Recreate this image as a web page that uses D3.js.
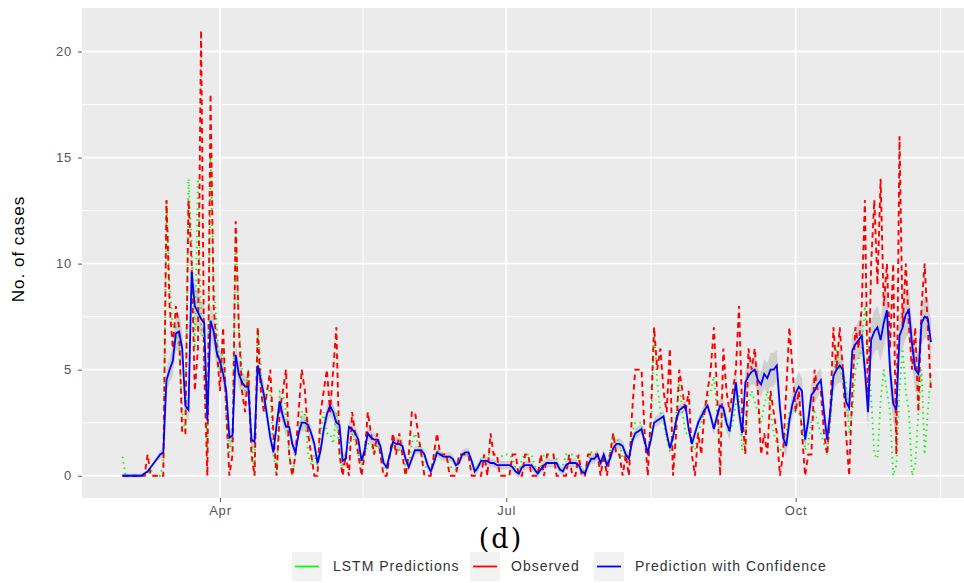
<!DOCTYPE html>
<html lang="en">
<head>
  <meta charset="UTF-8" />
  <title>No. of cases (d)</title>
  <script src="https://d3js.org/d3.v7.min.js"></script>
  <style>
    body {
      background-color: white;
      margin: 0;
      font-family: "Liberation Sans", Arial, sans-serif;
    }
    svg { display: block; }
  </style>
</head>
<body>
  <svg></svg>

  <script>
    // daily series, one value per day starting 2020-03-01
    const startDate = "2020-03-01";

    const observed = [
      0,0,0,0,0,0,0,0,1,0,
      0,0,0,0,13,8,6,8,7,2,
      2,13,10,4,6,21,5,0,18,8,
      6,4,7,3,0,1,12,7,4,3,
      5,1,0,7,4,3,4,5,2,0,
      3,4,5,1,0,1,3,5,4,2,
      1,0,0,3,4,5,3,5,7,1,
      0,1,0,3,2,1,0,1,3,2,
      1,2,1,0,0,1,2,1,2,1,
      0,1,3,3,2,1,0,0,0,1,
      2,1,1,1,0,0,0,1,1,1,
      1,0,0,0,0,1,0,2,1,1,
      0,0,0,0,1,1,0,0,1,1,
      0,0,0,1,0,1,1,1,0,0,
      0,0,1,0,0,1,0,0,1,1,
      1,1,0,1,0,1,2,1,1,0,
      1,0,3,5,5,5,2,0,3,7,
      5,6,4,3,6,0,2,5,4,3,
      4,1,0,2,1,3,4,5,7,4,
      0,6,4,3,4,5,8,3,1,6,
      5,6,4,1,2,1,4,3,2,0,
      1,4,7,5,3,4,2,0,1,1,
      5,4,4,2,1,3,7,5,7,5,
      2,0,4,7,6,8,13,3,10,13,
      9,14,8,10,6,10,1,16,7,10,
      7,5,7,3,8,10,7,4
    ];

    const lstm = [
      0.9,0,0,0,0,0,0,0,0,0.3,
      0,0,0,0.5,13,9,7,7,6,3,
      2,14,11,6,14,7,6,1,15,9,
      7,5,6,3,1,2,11.5,7,5,4,
      5,2,0,7,5,3,4,4,1,0,
      4,4,3,1,0,1,2,3,3,1,
      0.5,1,0.5,2,3,2,2,1.5,3,1,
      0.4,1,1.5,2,1.5,1,0.5,1,1.5,1.5,
      1,1.5,1,0.5,0.3,1,1.5,1.2,1.2,1,
      0.5,0.5,1.5,2,1.5,1,0.5,0.3,0.3,0.8,
      1.2,1,1,0.8,0.5,0.3,0.3,0.8,1,1,
      1,0.5,0.2,0.3,0.8,1,1,1,1,0.8,
      0.8,1,1,1,0.8,0.3,0.2,0.8,1,1,
      1,0.5,0.2,0.5,1,1,1,1,0.8,0.3,
      0.5,1,1,1,1,0.8,0.3,0.2,0.7,1.1,
      1,1,0.5,1,0.5,1.2,1.9,1.8,1.5,0.8,
      1,0.8,2,2.5,2.5,2.5,1.5,1,2,7,
      4.4,3,2.5,1.7,1.2,1.5,3,4.4,3,2,
      2,1.5,1.2,2,2.5,3,3.7,4,4.7,3,
      1.8,3,2.5,2,2.5,3.4,3.8,1.2,2,3.5,
      4,3.5,3,2.5,3.3,4,3,2,1.5,1.2,
      1.3,2,3,3.2,3,3,2.5,1.2,1.5,2.6,
      3,2.5,2,1.5,1,2.5,4.5,6,5,4.5,
      4.4,2,3,5,5.5,6,8,5.6,3.7,1,
      0.8,3.5,5,4,3,0,0.5,4,6,4,
      3,0,0.5,3,5,1,3,4.8
    ];

    const predicted = [
      0,0,0,0,0,0,0,0.1,0.2,0.4,
      0.6,0.8,1.0,1.1,4.5,5.0,5.4,6.7,6.8,6.0,
      3.3,3.1,9.6,8.0,7.7,7.4,7.2,2.6,7.3,6.8,
      5.8,5.4,4.8,4.0,1.8,1.9,5.7,4.8,4.4,4.2,
      4.2,1.7,1.6,5.2,4.5,3.8,2.8,1.8,1.1,2.4,
      3.5,2.8,2.3,2.3,1.5,1.1,2.0,2.5,2.5,2.4,
      2.0,1.5,0.6,1.2,2.2,2.9,3.3,3.0,2.5,2.4,
      0.7,0.8,2.3,2.2,2.0,1.7,0.7,1.2,2.0,1.8,
      1.7,1.7,1.4,0.6,0.4,1.0,1.6,1.5,1.5,1.4,
      0.8,0.4,0.8,1.2,1.2,1.2,1.0,0.5,0.2,0.6,
      1.1,1.0,0.9,0.9,0.9,0.8,0.5,0.6,1.0,1.1,
      1.1,0.7,0.2,0.4,0.7,0.7,0.7,0.6,0.6,0.5,
      0.5,0.5,0.5,0.5,0.4,0.2,0.1,0.4,0.5,0.5,
      0.5,0.3,0.1,0.3,0.5,0.6,0.6,0.6,0.6,0.3,
      0.2,0.5,0.6,0.6,0.6,0.5,0.2,0.1,0.5,0.8,
      0.8,1.0,0.6,1.0,0.5,0.8,1.3,1.5,1.5,1.4,
      1.0,0.8,1.6,2.0,2.1,2.2,1.6,1.1,1.7,2.5,
      2.6,2.7,2.8,2.0,1.3,1.8,2.6,3.1,3.2,3.3,
      2.2,1.5,2.0,2.5,2.8,3.1,3.3,2.8,2.2,2.8,
      3.3,3.2,2.5,2.1,3.2,4.4,3.0,2.0,4.4,4.7,
      4.9,5.0,4.5,4.3,4.8,4.6,5.0,5.0,5.2,3.2,
      1.8,1.4,2.6,3.4,3.9,4.2,4.0,1.7,2.6,3.8,
      4.0,4.3,4.5,3.0,1.7,3.0,4.7,5.0,5.2,5.0,
      3.5,3.2,5.9,6.2,6.4,6.6,5.0,3.0,6.4,6.8,
      7.0,6.4,7.2,7.8,5.0,3.4,3.1,6.6,7.0,7.6,
      7.8,6.2,5.0,4.8,7.2,7.5,7.4,6.3
    ];

    // half width of the confidence band around the prediction
    const ciHalf = [
      0.1,0.1,0.1,0.1,0.1,0.1,0.1,0.1,0.1,0.1,
      0.1,0.1,0.2,0.2,0.5,0.6,0.7,0.8,0.9,0.8,
      0.5,0.5,0.9,1.0,0.9,0.8,0.8,0.5,0.8,0.8,
      0.7,0.6,0.6,0.5,0.4,0.4,0.6,0.6,0.5,0.5,
      0.5,0.4,0.4,0.6,0.5,0.5,0.4,0.4,0.3,0.4,
      0.5,0.5,0.4,0.4,0.3,0.3,0.3,0.4,0.4,0.4,
      0.3,0.3,0.3,0.3,0.4,0.4,0.5,0.4,0.4,0.3,
      0.3,0.3,0.3,0.3,0.3,0.3,0.3,0.3,0.3,0.3,
      0.3,0.3,0.3,0.2,0.2,0.2,0.3,0.3,0.3,0.3,
      0.2,0.2,0.2,0.2,0.2,0.2,0.2,0.2,0.2,0.2,
      0.2,0.2,0.2,0.2,0.2,0.2,0.2,0.2,0.2,0.2,
      0.2,0.2,0.2,0.2,0.2,0.2,0.2,0.2,0.2,0.2,
      0.2,0.2,0.2,0.2,0.2,0.2,0.2,0.2,0.2,0.2,
      0.2,0.2,0.2,0.2,0.2,0.2,0.2,0.2,0.2,0.2,
      0.2,0.2,0.2,0.2,0.2,0.2,0.2,0.2,0.2,0.2,
      0.25,0.25,0.25,0.25,0.25,0.25,0.25,0.25,0.25,0.25,
      0.25,0.25,0.25,0.25,0.25,0.25,0.25,0.25,0.25,0.25,
      0.25,0.25,0.25,0.25,0.25,0.25,0.25,0.25,0.25,0.25,
      0.25,0.25,0.25,0.25,0.25,0.25,0.25,0.25,0.25,0.25,
      0.4,0.4,0.4,0.4,0.5,0.6,0.5,0.5,0.6,0.6,
      0.6,0.7,0.6,0.6,0.7,0.7,0.8,0.8,0.7,0.6,
      0.5,0.5,0.5,0.6,0.6,0.7,0.6,0.5,0.5,0.6,
      0.6,0.6,0.6,0.6,0.6,0.6,0.7,0.7,0.8,0.7,
      0.7,0.7,0.8,0.8,0.9,0.9,0.8,0.8,0.9,1.0,
      1.0,1.0,1.1,1.1,1.0,0.9,0.9,1.0,1.0,1.1,
      1.1,1.0,1.0,1.0,1.0,1.0,1.0,1.0
    ];

    const yTicks = [0, 5, 10, 15, 20];
    const yMinor = [2.5, 7.5, 12.5, 17.5];
    const xTicks = ["2020-04-01", "2020-07-01", "2020-10-01"];
    const xMinor = ["2020-05-16T12:00", "2020-08-16T00:00", "2020-11-16T00:00"];
    const legendItems = [
      { label: "LSTM Predictions", color: "#00FF00" },
      { label: "Observed", color: "#FF0000" },
      { label: "Prediction with Confidence", color: "#0000FF" }
    ];

    const width = 964, height = 583;
    const panel = { left: 82, top: 8, bottom: 498 };

    const svg = d3.select("svg")
      .attr("width", width)
      .attr("height", height);

    const parse = d3.utcParse("%Y-%m-%d");
    const parseT = d3.utcParse("%Y-%m-%dT%H:%M");
    const t0 = parse(startDate);
    const rows = predicted.map((p, i) => ({
      date: d3.utcDay.offset(t0, i),
      obs: observed[i],
      lstm: lstm[i],
      pred: p,
      lo: p - ciHalf[i],
      hi: p + ciHalf[i]
    }));

    // ggplot style 5% expansion on both axes
    const xExt = d3.extent(rows, d => d.date);
    const span = xExt[1] - xExt[0];
    const pxPerMs = 3.146 / 864e5;
    const x = d3.scaleUtc()
      .domain([new Date(+xExt[0] - span * 0.05), new Date(+xExt[1] + span * 0.05)])
      .range([panel.left, panel.left + span * 1.1 * pxPerMs]);

    const yMax = d3.max(rows, d => d.obs);
    const y = d3.scaleLinear()
      .domain([-yMax * 0.05, yMax * 1.05])
      .range([panel.bottom, panel.top]);

    const panelRight = x.range()[1];

    svg.append("rect")
      .attr("x", panel.left).attr("y", panel.top)
      .attr("width", panelRight - panel.left)
      .attr("height", panel.bottom - panel.top)
      .attr("fill", "#EBEBEB");

    const grid = svg.append("g");
    grid.selectAll(".ymin").data(yMinor).enter().append("line")
      .attr("x1", panel.left).attr("x2", panelRight)
      .attr("y1", d => y(d)).attr("y2", d => y(d))
      .attr("stroke", "#fff").attr("stroke-width", 0.9);
    grid.selectAll(".xmin").data(xMinor).enter().append("line")
      .attr("x1", d => x(parseT(d))).attr("x2", d => x(parseT(d)))
      .attr("y1", panel.top).attr("y2", panel.bottom)
      .attr("stroke", "#fff").attr("stroke-width", 0.9);
    grid.selectAll(".ymaj").data(yTicks).enter().append("line")
      .attr("x1", panel.left).attr("x2", panelRight)
      .attr("y1", d => y(d)).attr("y2", d => y(d))
      .attr("stroke", "#fff").attr("stroke-width", 1.8);
    grid.selectAll(".xmaj").data(xTicks).enter().append("line")
      .attr("x1", d => x(parse(d))).attr("x2", d => x(parse(d)))
      .attr("y1", panel.top).attr("y2", panel.bottom)
      .attr("stroke", "#fff").attr("stroke-width", 1.8);

    // confidence ribbon
    svg.append("path")
      .datum(rows)
      .attr("fill", "#BEBEBE")
      .attr("fill-opacity", 0.65)
      .attr("d", d3.area().x(d => x(d.date)).y0(d => y(d.lo)).y1(d => y(d.hi)));

    const line = key => d3.line().x(d => x(d.date)).y(d => y(d[key]));

    svg.append("path").datum(rows)
      .attr("fill", "none").attr("stroke", "#00FF00")
      .attr("stroke-width", 1.8).attr("stroke-dasharray", "1.5,4")
      .attr("d", line("lstm"));

    svg.append("path").datum(rows)
      .attr("fill", "none").attr("stroke", "#FF0000")
      .attr("stroke-width", 1.9).attr("stroke-dasharray", "5.5,4")
      .attr("d", line("obs"));

    svg.append("path").datum(rows)
      .attr("fill", "none").attr("stroke", "#0000FF")
      .attr("stroke-width", 1.8)
      .attr("d", line("pred"));

    // axes
    const yAxis = svg.append("g")
      .attr("transform", `translate(${panel.left},0)`)
      .call(d3.axisLeft(y).tickValues(yTicks).tickSize(4).tickPadding(6));
    const xAxis = svg.append("g")
      .attr("transform", `translate(0,${panel.bottom})`)
      .call(d3.axisBottom(x).tickValues(xTicks.map(parse))
        .tickFormat(d3.utcFormat("%b")).tickSize(4).tickPadding(4));
    [yAxis, xAxis].forEach(g => {
      g.select(".domain").remove();
      g.selectAll(".tick line").attr("stroke", "#555");
      g.selectAll("text")
        .attr("fill", "#555")
        .style("font-family", "'Liberation Sans', Arial, sans-serif")
        .style("font-size", "13px")
        .style("letter-spacing", "0.8px");
    });

    svg.append("text")
      .attr("transform", `translate(20,${(panel.top + panel.bottom) / 2 - 4}) rotate(-90)`)
      .attr("text-anchor", "middle")
      .attr("dominant-baseline", "middle")
      .style("font-size", "17px")
      .style("letter-spacing", "1px")
      .text("No. of cases");

    svg.append("text")
      .attr("x", 501).attr("y", 548)
      .attr("text-anchor", "middle")
      .style("font-family", "'DejaVu Serif', 'Liberation Serif', serif")
      .style("font-size", "27px")
      .style("letter-spacing", "2px")
      .text("(d)");

    // legend
    const legendX = [292, 470, 594];
    const leg = svg.append("g")
      .selectAll("g")
      .data(legendItems)
      .enter().append("g")
      .attr("transform", (d, i) => `translate(${legendX[i]},552)`);
    leg.append("rect")
      .attr("width", 30).attr("height", 29)
      .attr("fill", "#F2F2F2");
    leg.append("line")
      .attr("x1", 3).attr("x2", 27)
      .attr("y1", 14.5).attr("y2", 14.5)
      .attr("stroke", d => d.color).attr("stroke-width", 1.8);
    leg.append("text")
      .attr("x", 41).attr("y", 15)
      .attr("dominant-baseline", "middle")
      .attr("fill", "#333")
      .style("font-size", "14px")
      .style("letter-spacing", "1px")
      .text(d => d.label);
  </script>
</body>
</html>
